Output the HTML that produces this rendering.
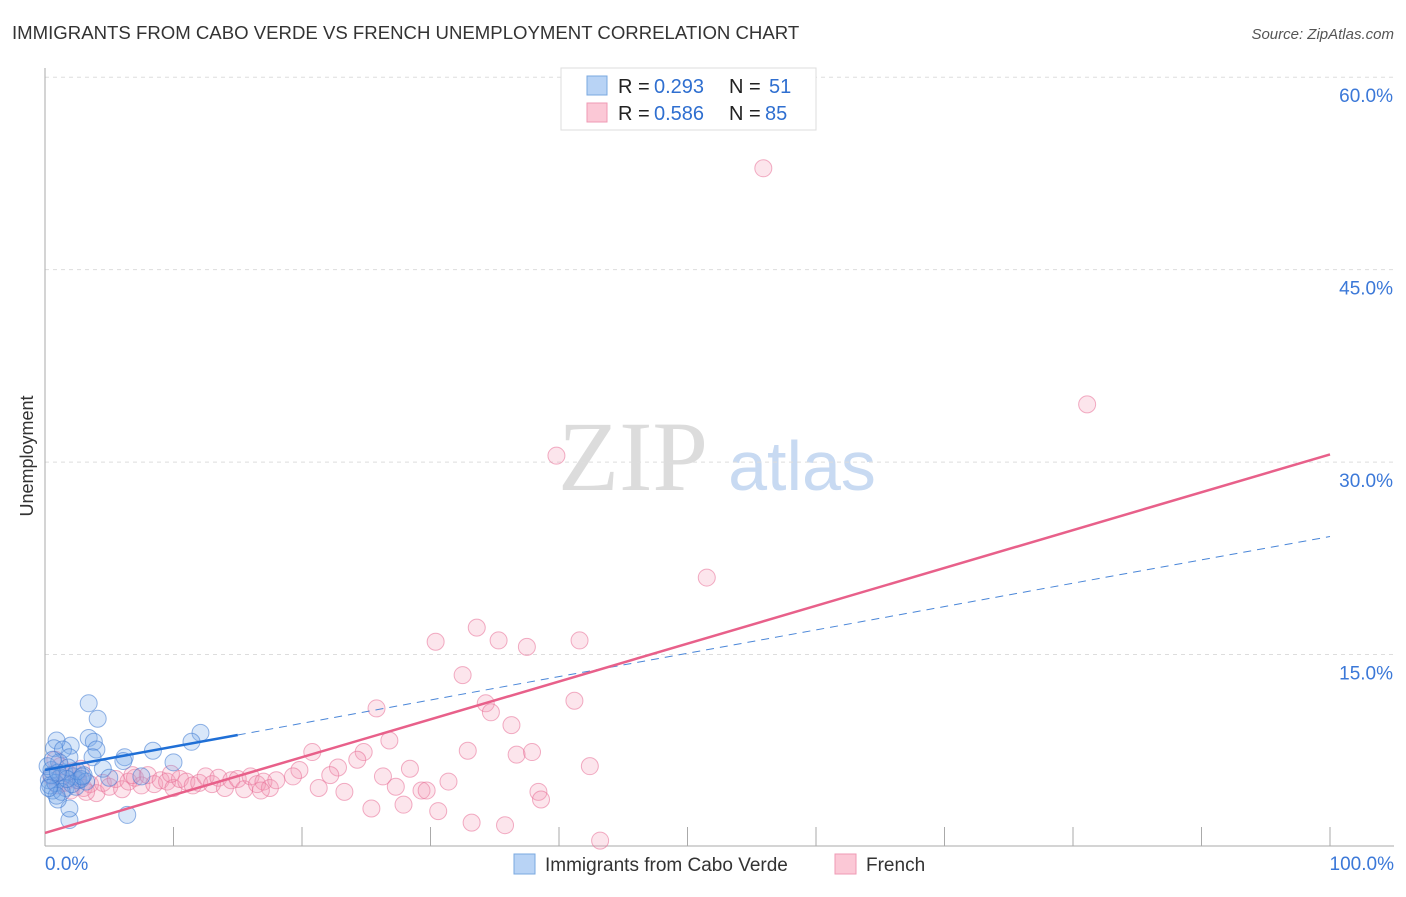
<!DOCTYPE html>
<html><head><meta charset="utf-8"><style>
body{margin:0;background:#fff;font-family:"Liberation Sans",sans-serif;}
</style></head><body>
<svg id="chart" width="1406" height="892" xmlns="http://www.w3.org/2000/svg" font-family="Liberation Sans, sans-serif">
<text x="12" y="39" font-size="18.6" fill="#333">IMMIGRANTS FROM CABO VERDE VS FRENCH UNEMPLOYMENT CORRELATION CHART</text>
<text x="1394" y="39" font-size="15" fill="#555" font-style="italic" text-anchor="end">Source: ZipAtlas.com</text>
<text x="33" y="456" font-size="18" fill="#333" text-anchor="middle" transform="rotate(-90 33 456)">Unemployment</text>
<g><text x="633" y="490" font-size="100" fill="#dcdcdc" style="font-family:'Liberation Serif',serif" text-anchor="middle">ZIP</text><text x="802" y="490" font-size="70" fill="#c8daf2" text-anchor="middle">atlas</text></g>
<g id="grid"></g><g id="axes"></g><g id="pts"></g><g id="lines"></g>
<g>
<rect x="561" y="68" width="255" height="62" fill="#fff" stroke="#ddd"/>
<rect x="587" y="76" width="20" height="19" fill="#b8d3f5" stroke="#7aa8e0"/>
<rect x="587" y="103" width="20" height="19" fill="#fbc8d6" stroke="#ef9ab4"/>
<text x="618" y="93" font-size="20" fill="#222">R =</text><text x="654" y="93" font-size="20" fill="#2f6fd0">0.293</text>
<text x="729" y="93" font-size="20" fill="#222">N =</text><text x="769" y="93" font-size="20" fill="#2f6fd0">51</text>
<text x="618" y="120" font-size="20" fill="#222">R =</text><text x="654" y="120" font-size="20" fill="#2f6fd0">0.586</text>
<text x="729" y="120" font-size="20" fill="#222">N =</text><text x="765" y="120" font-size="20" fill="#2f6fd0">85</text>
</g>
<g>
<rect x="514" y="854" width="21" height="20" fill="#b8d3f5" stroke="#7aa8e0"/>
<text x="545" y="871" font-size="19" fill="#333">Immigrants from Cabo Verde</text>
<rect x="835" y="854" width="21" height="20" fill="#fbc8d6" stroke="#ef9ab4"/>
<text x="866" y="871" font-size="19" fill="#333">French</text>
</g>
</svg>
<script>
const yTicks=[15,30,45,60];
const yTickLabels=["15.0%","30.0%","45.0%","60.0%"];
const xTicks=[0,10,20,30,40,50,60,70,80,90,100];
const blueX=[3.4,4.1,12.1,11.4,3.4,3.8,8.4,6.2,6.1,10,4,2,0.9,0.7,1.4,1.9,3.7,7.5,6.4,1.9,1.9,1,0.6,0.3,0.5,1.2,1.5,2.2,2.6,3,0.4,0.8,1.6,2.4,2.8,0.2,1.1,1.8,2.1,3.2,0.5,1.3,0.9,2.5,1.7,0.3,4.5,5,2.9,1,0.6];
const blueY=[11.2,10,8.9,8.2,8.5,8.2,7.5,7,6.7,6.6,7.6,7.9,8.3,7.7,7.6,7,7,5.5,2.5,2.1,3,3.7,4.4,5.2,6,5.4,5.8,5.5,5.2,5.6,4.8,5,4.6,4.7,5.3,6.3,6.6,6.2,4.9,5.1,5.6,4.3,4,5.9,5.3,4.6,6.1,5.4,5.5,5.8,6.8];
const pinkX=[55.9,81.1,39.8,51.5,30.4,33.6,35.3,37.5,41.6,32.5,25.8,34.3,34.7,41.2,36.3,20.8,26.8,32.9,36.7,37.9,42.4,24.8,24.3,28.4,19.8,22.8,31.4,26.3,27.3,29.3,29.7,38.4,38.6,25.4,27.9,30.6,33.2,35.8,43.2,21.3,23.3,22.2,19.3,
0.5,1,1.5,2,2.5,3,3.5,4,4.5,5,5.5,6,6.5,7,7.5,8,8.5,9,9.5,10,10.5,11,11.5,12,12.5,13,13.5,14,14.5,15,15.5,16,16.5,17,17.5,18,1.2,2.2,3.2,0.8,1.8,2.8,16.8,9.8,6.8];
const pinkY=[52.9,34.5,30.5,21,16,17.1,16.1,15.6,16.1,13.4,10.8,11.2,10.5,11.4,9.5,7.4,8.3,7.5,7.2,7.4,6.3,7.4,6.8,6.1,6,6.2,5.1,5.5,4.7,4.4,4.4,4.3,3.7,3,3.3,2.8,1.9,1.7,0.5,4.6,4.3,5.6,5.5,
5.5,4.8,5,4.4,5.2,4.6,4.9,4.2,5,4.7,5.3,4.5,5.1,5.4,4.8,5.6,4.9,5.2,5.1,4.6,5.3,5.1,4.8,5,5.5,4.9,5.4,4.6,5.2,5.3,4.5,5.5,4.9,5.1,4.6,5.2,6.3,5.9,4.3,6.8,5.7,6.1,4.4,5.7,5.6];
const X=v=>45+v*12.85, Y=v=>847-v*12.83;
const NS="http://www.w3.org/2000/svg";
function mk(p,t,a){const e=document.createElementNS(NS,t);for(const k in a)e.setAttribute(k,a[k]);p.appendChild(e);return e;}
const g=document.getElementById('grid'),ax=document.getElementById('axes'),pts=document.getElementById('pts'),ln=document.getElementById('lines');
yTicks.forEach((t,i)=>{
 const l=mk(g,'line',{x1:45,x2:1394,y1:Y(t),y2:Y(t),stroke:'#ddd','stroke-dasharray':'4,4'});
 
 
 const tx=mk(g,'text',{x:1393,y:Y(t)+25,'font-size':19,fill:'#3b78d8','text-anchor':'end'});tx.textContent=yTickLabels[i];
 
 
});
mk(ax,'line',{x1:45,x2:45,y1:68,y2:846,stroke:'#aaa'});
mk(ax,'line',{x1:45,x2:1394,y1:846,y2:846,stroke:'#aaa'});
xTicks.slice(1).forEach(t=>{const l=mk(ax,'line',{x1:X(t),x2:X(t),y1:827,y2:846,stroke:'#aaa'});
 
 });
let t0=mk(ax,'text',{x:45,y:870,'font-size':19,fill:'#3b78d8'});t0.textContent='0.0%';


let t1=mk(ax,'text',{x:1394,y:870,'font-size':19,fill:'#3b78d8','text-anchor':'end'});t1.textContent='100.0%';


pinkX.forEach((x,i)=>{const c=mk(pts,'circle',{cx:X(x),cy:Y(pinkY[i]),r:8.5,fill:'rgba(244,150,180,0.25)',stroke:'rgba(232,110,150,0.55)','stroke-width':1});
 
 });
blueX.forEach((x,i)=>{const c=mk(pts,'circle',{cx:X(x),cy:Y(blueY[i]),r:8.5,fill:'rgba(120,170,235,0.28)',stroke:'rgba(60,120,210,0.55)','stroke-width':1});
 
 });
const bf=x=>6.0+0.182*x, pf=x=>1.1+0.295*x;
let l1=mk(ln,'line',{x1:X(0),y1:Y(bf(0)),x2:X(15),y2:Y(bf(15)),stroke:'#1f6fd6','stroke-width':2.5});


let l2=mk(ln,'line',{x1:X(15),y1:Y(bf(15)),x2:X(100),y2:Y(bf(100)),stroke:'#4a86d8','stroke-width':1,'stroke-dasharray':'8,6'});


let l3=mk(ln,'line',{x1:X(0),y1:Y(pf(0)),x2:X(100),y2:Y(pf(100)),stroke:'#e8608a','stroke-width':2.5});


</script>
</body></html>
